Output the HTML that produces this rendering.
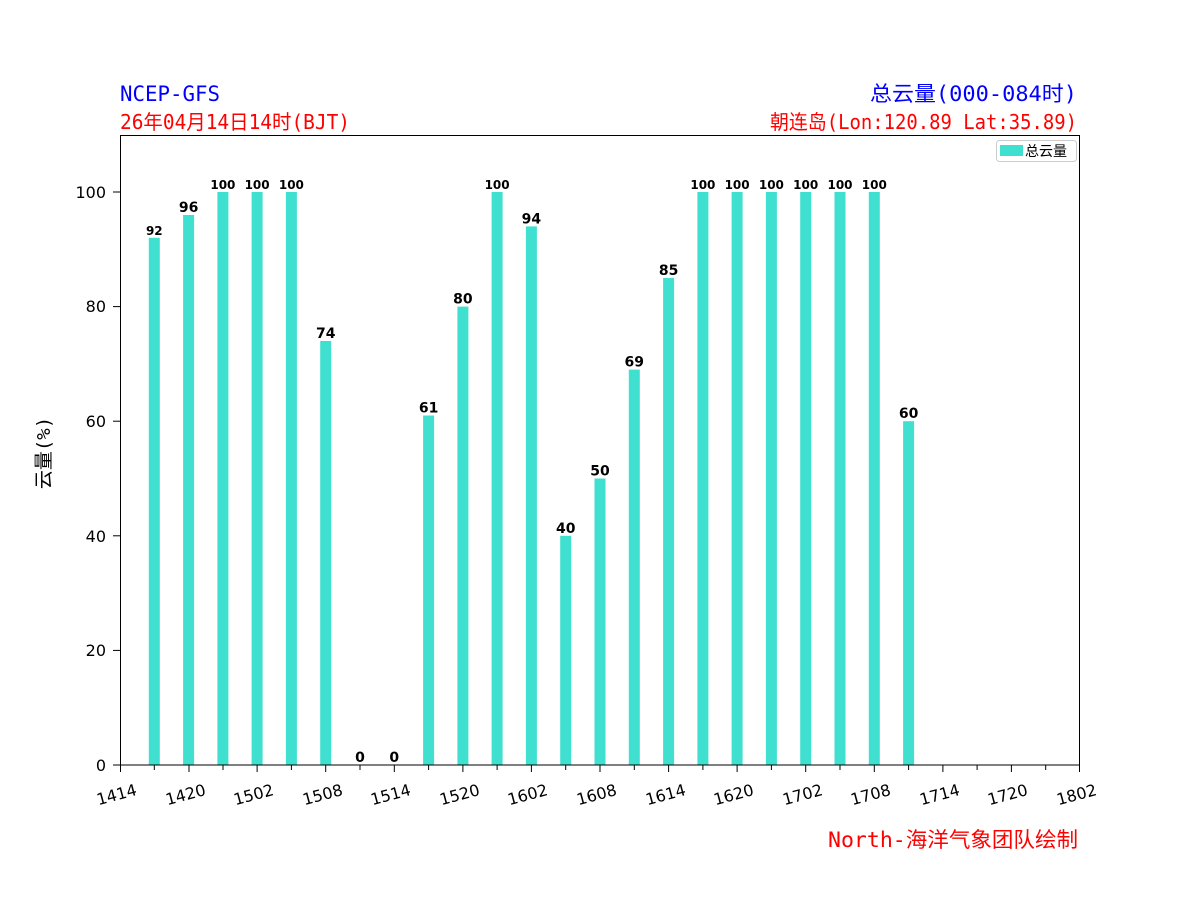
<!DOCTYPE html>
<html><head><meta charset="utf-8"><style>body{margin:0;background:#fff}</style></head><body>
<svg width="1200" height="900" viewBox="0 0 1200 900" xmlns="http://www.w3.org/2000/svg">
<rect width="1200" height="900" fill="#fff"/>
<g style="font-family:'DejaVu Sans Mono','WenQuanYi Zen Hei',monospace" lengthAdjust="spacingAndGlyphs">
<text x="120" y="101" font-size="21" fill="#0000ff" textLength="100" lengthAdjust="spacingAndGlyphs">NCEP-GFS</text>
<text x="120" y="129" font-size="20" fill="#ff0000" textLength="230" lengthAdjust="spacingAndGlyphs">26年04月14日14时(BJT)</text>
<text x="870" y="101" font-size="21" fill="#0000ff" textLength="207" lengthAdjust="spacingAndGlyphs">总云量(000-084时)</text>
<text x="770" y="129" font-size="20" fill="#ff0000" textLength="307" lengthAdjust="spacingAndGlyphs">朝连岛(Lon:120.89 Lat:35.89)</text>
<text x="828" y="847" font-size="21" fill="#ff0000" textLength="250" lengthAdjust="spacingAndGlyphs">North-海洋气象团队绘制</text>
</g>
<g fill="#40e0d0">
<rect x="148.8" y="237.8" width="11" height="527.2"/>
<rect x="183.1" y="215" width="11" height="550"/>
<rect x="217.4" y="192" width="11" height="573"/>
<rect x="251.6" y="192" width="11" height="573"/>
<rect x="285.9" y="192" width="11" height="573"/>
<rect x="320.2" y="341" width="11" height="424"/>
<rect x="423.1" y="415.5" width="11" height="349.5"/>
<rect x="457.4" y="306.6" width="11" height="458.4"/>
<rect x="491.6" y="192" width="11" height="573"/>
<rect x="525.9" y="226.4" width="11" height="538.6"/>
<rect x="560.2" y="535.8" width="11" height="229.2"/>
<rect x="594.5" y="478.5" width="11" height="286.5"/>
<rect x="628.8" y="369.6" width="11" height="395.4"/>
<rect x="663.1" y="277.9" width="11" height="487.1"/>
<rect x="697.4" y="192" width="11" height="573"/>
<rect x="731.6" y="192" width="11" height="573"/>
<rect x="765.9" y="192" width="11" height="573"/>
<rect x="800.2" y="192" width="11" height="573"/>
<rect x="834.5" y="192" width="11" height="573"/>
<rect x="868.8" y="192" width="11" height="573"/>
<rect x="903.1" y="421.2" width="11" height="343.8"/>
</g>
<g font-weight="bold" text-anchor="middle" fill="#000" style="font-family:'DejaVu Sans',sans-serif">
<text x="154.3" y="235" font-size="12">92</text>
<text x="188.6" y="212" font-size="14">96</text>
<text x="222.9" y="189" font-size="12">100</text>
<text x="257.1" y="189" font-size="12">100</text>
<text x="291.4" y="189" font-size="12">100</text>
<text x="325.7" y="338" font-size="14">74</text>
<text x="360" y="762" font-size="14">0</text>
<text x="394.3" y="762" font-size="14">0</text>
<text x="428.6" y="412.5" font-size="14">61</text>
<text x="462.9" y="303.6" font-size="14">80</text>
<text x="497.1" y="189" font-size="12">100</text>
<text x="531.4" y="223.4" font-size="14">94</text>
<text x="565.7" y="532.8" font-size="14">40</text>
<text x="600" y="475.5" font-size="14">50</text>
<text x="634.3" y="366.6" font-size="14">69</text>
<text x="668.6" y="274.9" font-size="14">85</text>
<text x="702.9" y="189" font-size="12">100</text>
<text x="737.1" y="189" font-size="12">100</text>
<text x="771.4" y="189" font-size="12">100</text>
<text x="805.7" y="189" font-size="12">100</text>
<text x="840" y="189" font-size="12">100</text>
<text x="874.3" y="189" font-size="12">100</text>
<text x="908.6" y="418.2" font-size="14">60</text>
</g>
<rect x="120.5" y="135.5" width="959" height="629.5" fill="none" stroke="#000" stroke-width="1"/>
<g stroke="#000" stroke-width="1">
<line x1="113" y1="765" x2="120" y2="765"/><line x1="113" y1="650.4" x2="120" y2="650.4"/><line x1="113" y1="535.8" x2="120" y2="535.8"/><line x1="113" y1="421.2" x2="120" y2="421.2"/><line x1="113" y1="306.6" x2="120" y2="306.6"/><line x1="113" y1="192" x2="120" y2="192"/>
</g>
<g font-size="16" text-anchor="end" fill="#000" style="font-family:'DejaVu Sans',sans-serif">
<text x="106" y="771">0</text><text x="106" y="656">20</text><text x="106" y="542">40</text><text x="106" y="427">60</text><text x="106" y="312">80</text><text x="106" y="198">100</text>
</g>
<text transform="translate(50,453) rotate(-90)" font-size="19" text-anchor="middle" style="font-family:'DejaVu Sans Mono','WenQuanYi Zen Hei',monospace">云量(%)</text>
<g stroke="#000" stroke-width="1">
<line x1="120.5" y1="765" x2="120.5" y2="772"/><line x1="154.3" y1="765" x2="154.3" y2="770"/>
<line x1="189" y1="765" x2="189" y2="772"/><line x1="223" y1="765" x2="223" y2="770"/>
<line x1="257.1" y1="765" x2="257.1" y2="772"/><line x1="291.4" y1="765" x2="291.4" y2="770"/>
<line x1="325.7" y1="765" x2="325.7" y2="772"/><line x1="360" y1="765" x2="360" y2="770"/>
<line x1="394.3" y1="765" x2="394.3" y2="772"/><line x1="428.6" y1="765" x2="428.6" y2="770"/>
<line x1="462.9" y1="765" x2="462.9" y2="772"/><line x1="497.1" y1="765" x2="497.1" y2="770"/>
<line x1="531.4" y1="765" x2="531.4" y2="772"/><line x1="565.7" y1="765" x2="565.7" y2="770"/>
<line x1="600" y1="765" x2="600" y2="772"/><line x1="634.3" y1="765" x2="634.3" y2="770"/>
<line x1="668.6" y1="765" x2="668.6" y2="772"/><line x1="702.9" y1="765" x2="702.9" y2="770"/>
<line x1="737.1" y1="765" x2="737.1" y2="772"/><line x1="771.4" y1="765" x2="771.4" y2="770"/>
<line x1="805.7" y1="765" x2="805.7" y2="772"/><line x1="840" y1="765" x2="840" y2="770"/>
<line x1="874.3" y1="765" x2="874.3" y2="772"/><line x1="908.6" y1="765" x2="908.6" y2="770"/>
<line x1="942.9" y1="765" x2="942.9" y2="772"/><line x1="977.1" y1="765" x2="977.1" y2="770"/>
<line x1="1011.4" y1="765" x2="1011.4" y2="772"/><line x1="1045.7" y1="765" x2="1045.7" y2="770"/>
<line x1="1079.5" y1="765" x2="1079.5" y2="772"/>
</g>
<g font-size="16" text-anchor="middle" style="font-family:'DejaVu Sans',sans-serif">
<text transform="translate(118,800) rotate(-15)">1414</text>
<text transform="translate(187,800) rotate(-15)">1420</text>
<text transform="translate(255,800) rotate(-15)">1502</text>
<text transform="translate(324,800) rotate(-15)">1508</text>
<text transform="translate(392,800) rotate(-15)">1514</text>
<text transform="translate(461,800) rotate(-15)">1520</text>
<text transform="translate(529,800) rotate(-15)">1602</text>
<text transform="translate(598,800) rotate(-15)">1608</text>
<text transform="translate(667,800) rotate(-15)">1614</text>
<text transform="translate(735,800) rotate(-15)">1620</text>
<text transform="translate(804,800) rotate(-15)">1702</text>
<text transform="translate(872,800) rotate(-15)">1708</text>
<text transform="translate(941,800) rotate(-15)">1714</text>
<text transform="translate(1009,800) rotate(-15)">1720</text>
<text transform="translate(1078,800) rotate(-15)">1802</text>
</g>
<rect x="996.5" y="140.5" width="80" height="21" rx="3" fill="#fff" stroke="#ccc"/>
<rect x="1000" y="145" width="23" height="11" fill="#40e0d0"/>
<text x="1025" y="156" font-size="14" style="font-family:'WenQuanYi Zen Hei',sans-serif">总云量</text>
</svg>
</body></html>
